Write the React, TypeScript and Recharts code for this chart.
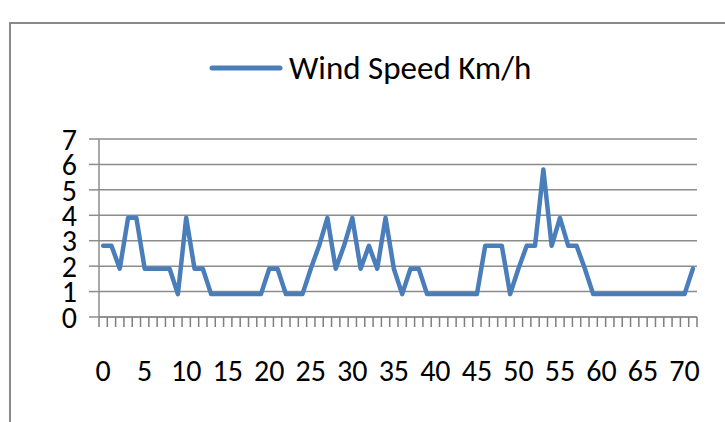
import React from 'react';
import {
  LineChart, Line, XAxis, YAxis, CartesianGrid, Legend,
} from 'recharts';

const SERIES_NAME = 'Wind Speed Km/h';
const LINE_BLUE = '#4a7ebb';
const GRID_GRAY = '#8c8c8c';
const FONT = 'Carlito, Calibri, Lato, sans-serif';

// hour index 0..71
const hours = Array.from({ length: 72 }, (_, i) => i);

const windSpeed = [
  2.8, 2.8, 1.9, 3.9, 3.9, 1.9, 1.9, 1.9, 1.9, 0.9,
  3.9, 1.9, 1.9, 0.9, 0.9, 0.9, 0.9, 0.9, 0.9, 0.9,
  1.9, 1.9, 0.9, 0.9, 0.9, 1.9, 2.8, 3.9, 1.9, 2.8,
  3.9, 1.9, 2.8, 1.9, 3.9, 1.9, 0.9, 1.9, 1.9, 0.9,
  0.9, 0.9, 0.9, 0.9, 0.9, 0.9, 2.8, 2.8, 2.8, 0.9,
  1.9, 2.8, 2.8, 5.8, 2.8, 3.9, 2.8, 2.8, 1.9, 0.9,
  0.9, 0.9, 0.9, 0.9, 0.9, 0.9, 0.9, 0.9, 0.9, 0.9,
  0.9, 1.9,
];

const xLabelTicks = [0, 5, 10, 15, 20, 25, 30, 35, 40, 45, 50, 55, 60, 65, 70];
const yTicks = [0, 1, 2, 3, 4, 5, 6, 7];

const data = hours.map((h, i) => ({ hour: h, speed: windSpeed[i] }));

// excel puts the minor tick marks between categories
const boundaryTicks = [...hours.map((h) => h - 0.5), hours[hours.length - 1] + 0.5];
const xDomain = [boundaryTicks[0], boundaryTicks[boundaryTicks.length - 1]];

function LegendBox({ payload }: any) {
  const item = payload && payload[0];
  return (
    <div style={{ display: 'flex', alignItems: 'center', height: 40 }}>
      <svg width={74} height={10} style={{ marginRight: 6 }}>
        <line x1={3} y1={5} x2={71} y2={5} stroke={LINE_BLUE} strokeWidth={5} strokeLinecap="round" />
      </svg>
      <span style={{ fontFamily: FONT, fontSize: 33, color: '#000' }}>
        {item ? item.value : SERIES_NAME}
      </span>
    </div>
  );
}

export default function App() {
  return (
    <div style={{ position: 'absolute', left: 0, top: 0, width: 725, height: 422, overflow: 'hidden', background: '#fff' }}>
      <div
        style={{
          position: 'absolute', left: 9, top: 22, width: 800, height: 500,
          border: '2px solid #8a8a8a', boxSizing: 'border-box',
        }}
      />
      <LineChart
        width={725}
        height={422}
        data={data}
        margin={{ top: 99, right: 28, bottom: 44, left: 0 }}
        style={{ position: 'absolute', left: 0, top: 0 }}
      >
        <CartesianGrid xAxisId="a" vertical={false} stroke={GRID_GRAY} strokeWidth={1.5} />
        <XAxis
          xAxisId="a"
          dataKey="hour"
          type="number"
          domain={xDomain}
          ticks={boundaryTicks}
          interval={0}
          tick={{ fontSize: 1, fill: 'transparent' }}
          tickSize={10}
          height={1}
          axisLine={{ stroke: GRID_GRAY, strokeWidth: 1.5 }}
          tickLine={{ stroke: '#7f7f7f', strokeWidth: 1.5 }}
        />
        <XAxis
          xAxisId="b"
          dataKey="hour"
          type="number"
          domain={xDomain}
          ticks={xLabelTicks}
          interval={0}
          axisLine={false}
          tickLine={false}
          tickSize={0}
          tickMargin={42}
          height={60}
          tick={{ fill: '#000', fontSize: 30, fontFamily: FONT }}
        />
        <YAxis
          domain={[0, 7]}
          ticks={yTicks}
          interval={0}
          width={99}
          tickSize={10}
          tickMargin={12}
          axisLine={{ stroke: GRID_GRAY, strokeWidth: 1.5 }}
          tickLine={{ stroke: GRID_GRAY, strokeWidth: 1.5 }}
          tick={{ fill: '#000', fontSize: 30, fontFamily: FONT }}
        />
        <Legend
          verticalAlign="top"
          content={<LegendBox />}
          wrapperStyle={{ position: 'absolute', top: 48, left: 209, width: 420 }}
        />
        <Line
          xAxisId="a"
          type="linear"
          dataKey="speed"
          name={SERIES_NAME}
          stroke={LINE_BLUE}
          strokeWidth={4.5}
          strokeLinejoin="round"
          strokeLinecap="round"
          dot={false}
          activeDot={false}
          isAnimationActive={false}
        />
      </LineChart>
    </div>
  );
}
